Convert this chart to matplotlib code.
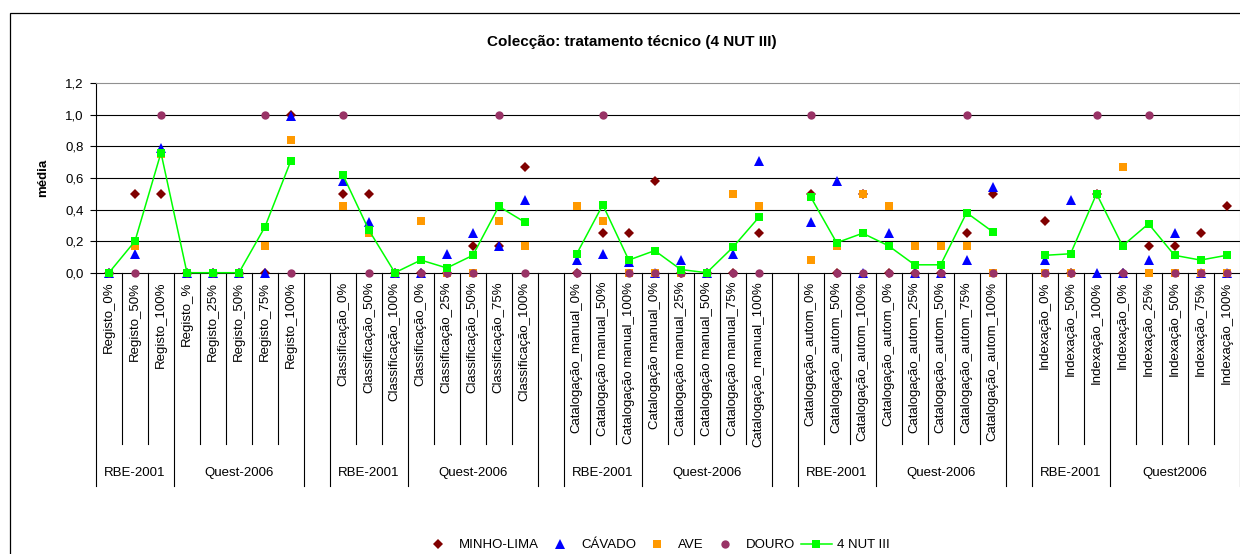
import numpy as np
import matplotlib
matplotlib.use("Agg")
import matplotlib.pyplot as plt
from matplotlib.lines import Line2D
from matplotlib.patches import Rectangle

plt.rcParams['font.family'] = ['Liberation Sans', 'DejaVu Sans']

# category labels, one per slot ('' = empty separator slot between blocks)
categories = [
    "Registo_0%", "Registo_50%", "Registo_100%",
    "Registo_%", "Registo_25%", "Registo_50%", "Registo_75%", "Registo_100%", "",
    "Classificação_0%", "Classificação_50%", "Classificação_100%",
    "Classificação_0%", "Classificação_25%", "Classificação_50%", "Classificação_75%", "Classificação_100%", "",
    "Catalogação_manual_0%", "Catalogação manual_50%", "Catalogação manual_100%",
    "Catalogação manual_0%", "Catalogação manual_25%", "Catalogação manual_50%",
    "Catalogação manual_75%", "Catalogação_manual_100%", "",
    "Catalogação_autom_0%", "Catalogação_autom_50%", "Catalogação_autom_100%",
    "Catalogação_autom_0%", "Catalogação_autom_25%", "Catalogação_autom_50%",
    "Catalogação_autom_75%", "Catalogação_autom_100%", "",
    "Indexação_0%", "Indexação_50%", "Indexação_100%",
    "Indexação_0%", "Indexação_25%", "Indexação_50%", "Indexação_75%", "Indexação_100%",
]

# second level of the category axis: (label, number of slots)
groups = [
    ("RBE-2001", 3), ("Quest-2006", 5), ("", 1),
    ("RBE-2001", 3), ("Quest-2006", 5), ("", 1),
    ("RBE-2001", 3), ("Quest-2006", 5), ("", 1),
    ("RBE-2001", 3), ("Quest-2006", 5), ("", 1),
    ("RBE-2001", 3), ("Quest2006", 5),
]

minho = [0, 0.5, 0.5, 0, 0, 0, 0, 1.0, None,
         0.5, 0.5, 0, 0, 0, 0.17, 0.17, 0.67, None,
         0, 0.25, 0.25, 0.58, 0, 0, 0, 0.25, None,
         0.5, 0, 0.5, 0, 0, 0, 0.25, 0.5, None,
         0.33, 0, 0.5, 0, 0.17, 0.17, 0.25, 0.42]
cavado = [0, 0.12, 0.79, 0, 0, 0, 0, 0.99, None,
          0.58, 0.32, 0, 0, 0.12, 0.25, 0.17, 0.46, None,
          0.08, 0.12, 0.07, 0, 0.08, 0, 0.12, 0.71, None,
          0.32, 0.58, 0, 0.25, 0, 0, 0.08, 0.54, None,
          0.08, 0.46, 0, 0, 0.08, 0.25, 0, 0]
ave = [0, 0.17, 0.75, 0, 0, 0, 0.17, 0.84, None,
       0.42, 0.25, 0, 0.33, 0, 0, 0.33, 0.17, None,
       0.42, 0.33, 0, 0, 0, 0, 0.5, 0.42, None,
       0.08, 0.17, 0.5, 0.42, 0.17, 0.17, 0.17, 0, None,
       0, 0, 0.5, 0.67, 0, 0, 0, 0]
douro = [0, 0, 1.0, 0, 0, 0, 1.0, 0, None,
         1.0, 0, 0, 0, 0, 0, 1.0, 0, None,
         0, 1.0, 0, 0, 0, 0, 0, 0, None,
         1.0, 0, 0, 0, 0, 0, 1.0, 0, None,
         0, 0, 1.0, 0, 1.0, 0, 0, 0]
nut = [0, 0.2, 0.76, 0, 0, 0, 0.29, 0.71, None,
       0.62, 0.27, 0, 0.08, 0.03, 0.11, 0.42, 0.32, None,
       0.12, 0.43, 0.08, 0.14, 0.02, 0, 0.16, 0.35, None,
       0.48, 0.19, 0.25, 0.17, 0.05, 0.05, 0.38, 0.26, None,
       0.11, 0.12, 0.5, 0.17, 0.31, 0.11, 0.08, 0.11]


def arr(vals):
    return np.array([np.nan if v is None else v for v in vals], dtype=float)


fig = plt.figure(figsize=(12.4, 5.54), dpi=100)
ax = fig.add_axes([96 / 1240, 281.3 / 554, 1143.5 / 1240, 189.4 / 554])

x = np.arange(len(categories))

# horizontal gridlines
for g in [0.2, 0.4, 0.6, 0.8, 1.0]:
    ax.axhline(g, color='black', lw=0.8, zorder=1)

ax.plot(x, arr(minho), linestyle='none', marker='D', ms=4.8, color='#800000',
        mew=0, clip_on=False, zorder=3)
ax.plot(x, arr(cavado), linestyle='none', marker='^', ms=7, color='#0000FF',
        mew=0, clip_on=False, zorder=4)
ax.plot(x, arr(ave), linestyle='none', marker='s', ms=5.8, color='#FF9900',
        mew=0, clip_on=False, zorder=5)
ax.plot(x, arr(douro), linestyle='none', marker='o', ms=6, color='#993366',
        mew=0, clip_on=False, zorder=6)
ax.plot(x, arr(nut), color='#00FF00', lw=1.1, marker='s', ms=6.2, mew=0,
        clip_on=False, zorder=7)

ax.set_xlim(-0.5, len(categories) - 0.5)
ax.set_ylim(0, 1.2)
ax.set_yticks(np.arange(0, 1.21, 0.2))
ax.yaxis.set_major_formatter(plt.FuncFormatter(lambda v, pos: ('%.1f' % v).replace('.', ',')))
ax.tick_params(axis='y', length=4, width=0.8, pad=5, labelsize=9.5, colors='black')

ax.set_xticks(x)
ax.set_xticklabels(categories, rotation=90, fontsize=9.5)
ax.tick_params(axis='x', length=0, pad=6.5)

ax.spines['top'].set_color('#909090')
ax.spines['right'].set_color('#909090')
ax.spines['left'].set_linewidth(0.8)
ax.spines['bottom'].set_linewidth(0.8)

# multi-level category axis: short lines between categories, long ones between groups
trans = ax.get_xaxis_transform()
bounds = [0]
for name, n in groups:
    bounds.append(bounds[-1] + n)
for k in range(len(categories) + 1):
    y_end = -1.126 if k in bounds else -0.904
    ax.plot([k - 0.5, k - 0.5], [0, y_end], color='black', lw=0.8,
            transform=trans, clip_on=False)
for i, (name, n) in enumerate(groups):
    mid = (bounds[i] + bounds[i + 1]) / 2 - 0.5
    ax.text(mid, -1.06, name, transform=trans, ha='center', va='center', fontsize=9.5)

fig.text(632 / 1240, 1 - 42 / 554, "Colecção: tratamento técnico (4 NUT III)",
         ha='center', va='center', fontsize=11, fontweight='bold')
fig.text(43 / 1240, 1 - 178 / 554, "média", rotation=90, ha='center', va='center',
         fontsize=9.5, fontweight='bold')

# chart border (right and bottom edges fall outside the picture)
fig.add_artist(Rectangle((10 / 1240, -0.5), 2, 1.5 - 12.7 / 554, transform=fig.transFigure,
                         fill=False, edgecolor='black', lw=0.9))

handles = [
    Line2D([], [], linestyle='none', marker='D', ms=4.8, color='#800000', mew=0),
    Line2D([], [], linestyle='none', marker='^', ms=7, color='#0000FF', mew=0),
    Line2D([], [], linestyle='none', marker='s', ms=5.8, color='#FF9900', mew=0),
    Line2D([], [], linestyle='none', marker='o', ms=6, color='#993366', mew=0),
    Line2D([], [], color='#00FF00', lw=1.1, marker='s', ms=6.2, mew=0),
]
labels = ["MINHO-LIMA", "CÁVADO", "AVE", "DOURO", "4 NUT III"]
fig.legend(handles, labels, loc='center', bbox_to_anchor=(656 / 1240, 1 - 545 / 554),
           ncol=5, frameon=False, fontsize=9.5, handlelength=2.4, handletextpad=0.4,
           columnspacing=0.4, borderpad=0, borderaxespad=0)

fig.savefig("out.png", dpi=100)
